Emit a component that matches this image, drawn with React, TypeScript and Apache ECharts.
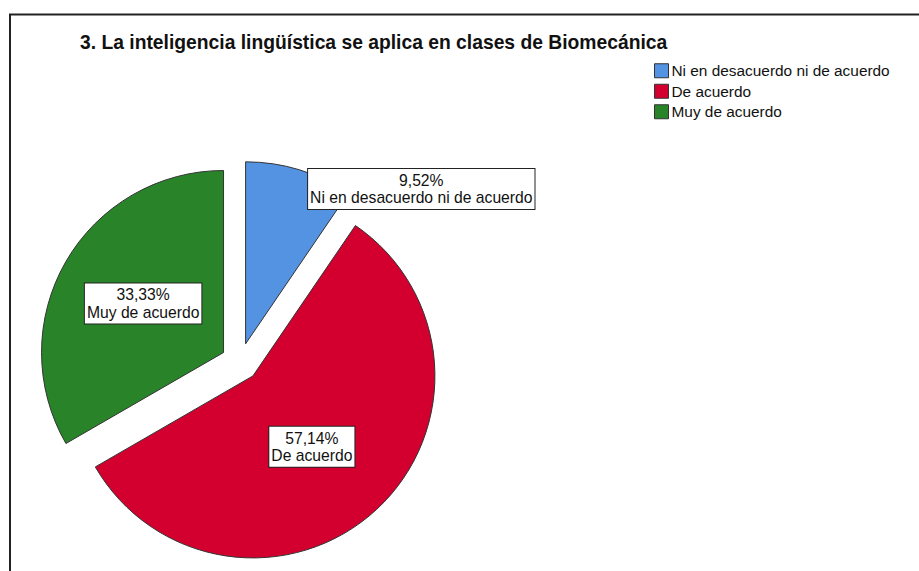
import React, { useEffect, useRef } from "react";
import * as echarts from "echarts";

const titleText = "3. La inteligencia lingüística se aplica en clases de Biomecánica";
const categories = ["Ni en desacuerdo ni de acuerdo", "De acuerdo", "Muy de acuerdo"];
const percentages = [9.52, 57.14, 33.33];
const colors = ["#5393E2", "#D3002F", "#298429"];
const labelShifts = [
  [148, -65],
  [-5, 2],
  [1, -2],
];

const FONT = "'Liberation Sans', Arial, sans-serif";

export default function App() {
  const ref = useRef<HTMLDivElement>(null);
  useEffect(() => {
    if (!ref.current) return;
    const chart = echarts.init(ref.current, undefined, { renderer: "svg" });
    chart.setOption({
      animation: false,
      backgroundColor: "#ffffff",
      title: {
        text: titleText,
        left: 75,
        top: 28,
        padding: 5,
        textStyle: { fontFamily: FONT, fontSize: 19.3, fontWeight: "bold", color: "#111" },
      },
      legend: {
        orient: "vertical",
        left: 649,
        top: 58,
        padding: 5,
        itemWidth: 14,
        itemHeight: 14,
        itemGap: 5,
        icon: "rect",
        data: categories,
        selectedMode: false,
        itemStyle: { borderColor: "#333", borderWidth: 1 },
        textStyle: {
          fontFamily: FONT,
          fontSize: 15.4,
          lineHeight: 15.5,
          color: "#111",
          padding: [0, 0, 0, -2],
        },
      },
      graphic: [
        {
          type: "rect",
          shape: { x: 10, y: 14.5, width: 1000, height: 700 },
          style: { fill: "none", stroke: "#222", lineWidth: 2 },
          silent: true,
        },
      ],
      series: [
        {
          type: "pie",
          center: [240, 362],
          radius: 182,
          startAngle: 90,
          clockwise: true,
          selectedMode: "multiple",
          selectedOffset: 19,
          avoidLabelOverlap: false,
          emphasis: { disabled: true },
          itemStyle: { borderColor: "#333", borderWidth: 1 },
          select: { itemStyle: { borderColor: "#333", borderWidth: 1 } },
          labelLine: { show: false },
          label: {
            show: true,
            position: "inside",
            formatter: (p: any) =>
              `${p.value.toFixed(2).replace(".", ",")}%\n${p.name}`,
            fontFamily: FONT,
            fontSize: 15.7,
            lineHeight: 17.5,
            color: "#111",
            align: "center",
            backgroundColor: "#ffffff",
            borderColor: "#222",
            borderWidth: 1,
            padding: [3, 2, 2, 2],
          },
          labelLayout: (params: any) => ({
            dx: labelShifts[params.dataIndex][0],
            dy: labelShifts[params.dataIndex][1],
          }),
          data: categories.map((name, i) => ({
            name,
            value: percentages[i],
            selected: true,
            itemStyle: { color: colors[i] },
          })),
        },
      ],
    });
    return () => chart.dispose();
  }, []);
  return (
    <div
      ref={ref}
      style={{ position: "absolute", left: 0, top: 0, width: 919, height: 571 }}
    />
  );
}
